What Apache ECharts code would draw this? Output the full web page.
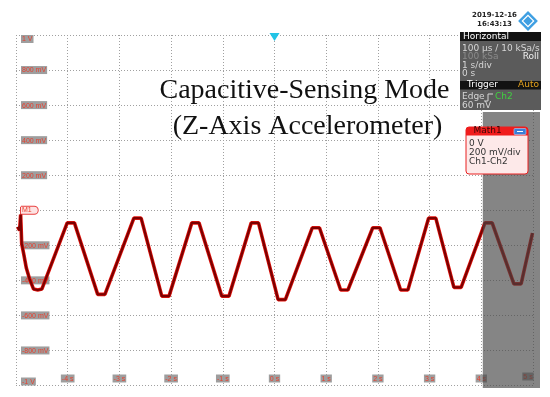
<!DOCTYPE html>
<html><head><meta charset="utf-8">
<script src="https://cdn.jsdelivr.net/npm/echarts@6/dist/echarts.min.js"></script>
<style>html,body{margin:0;padding:0;background:#fff}#c{width:550px;height:397px}</style>
</head><body><div id="c"></div>
<script>
// Math1 trace (Ch1-Ch2), time in s, voltage in mV
const timeS = [-4.97,-4.93,-4.91,-4.89,-4.85,-4.80,-4.74,-4.66,-4.58,-4.50,
  -4.01,-3.87,-3.42,-3.28,-2.72,-2.58,-2.18,-2.04,-1.60,-1.46,-1.02,-0.88,
  -0.45,-0.31,0.07,0.21,0.73,0.87,1.28,1.42,1.90,2.04,2.44,2.58,2.98,3.12,
  3.47,3.61,4.07,4.21,4.63,4.77,4.99];
const voltsMV = [-95,-115,-25,-190,-250,-330,-390,-450,-455,-450,
  -72,-72,-480,-480,-45,-45,-490,-490,-72,-72,-490,-490,
  -72,-72,-510,-510,-100,-100,-455,-455,-100,-100,-455,-455,-45,-45,
  -440,-440,-72,-72,-420,-420,-130];
const xTickLabels = ['', '-4 s', '-3 s', '-2 s', '-1 s', '0 s', '1 s', '2 s', '3 s', '4 s', '5 s'];
const yTickLabels = ['-1 V', '-800 mV', '-600 mV', '-400 mV', '-200 mV', 'M1', '200 mV', '400 mV', '600 mV', '800 mV', '1 V'];
const titleLines = ['Capacitive-Sensing Mode', '(Z-Axis Accelerometer)'];
const stampLines = ['2019-12-16', '16:43:13'];
const horizRows = ['100 µs / 10 kSa/s', '100 kSa', '1 s/div', '0 s'];
const trigRows = ['Edge', 'Ch2', '60 mV'];
const mathRows = ['0 V', '200 mV/div', 'Ch1-Ch2'];
const rollRegionStart = 4; // s

const chart = echarts.init(document.getElementById('c'));
const pts = timeS.map((t, i) => [t, voltsMV[i]]);
const lab = {fontFamily: 'Liberation Sans', fontSize: 7, color: '#e8402f', backgroundColor: '#9e9e9e', padding: [1, 1, 0, 1], lineHeight: 8};

chart.setOption({
  animation: false,
  backgroundColor: '#ffffff',
  grid: {left: 16, right: 17, top: 35, bottom: 11.5},
  xAxis: {
    type: 'value', min: -5, max: 5, interval: 1,
    axisLine: {show: false}, axisTick: {show: false},
    splitLine: {show: true, lineStyle: {color: '#a0a0a0', type: [1, 2], width: 1}},
    axisLabel: {
      inside: true, margin: 3, showMinLabel: true, showMaxLabel: true,
      formatter: v => {
        const i = Math.round(v + 5);
        const s = xTickLabels[i];
        if (!s) return '';
        if (i === 10) return '{b|' + s + '}{e| }';
        return '{b|' + s + '}';
      },
      rich: {b: lab, e: {width: 10}}
    }
  },
  yAxis: {
    type: 'value', min: -1000, max: 1000, interval: 200,
    axisLine: {show: false}, axisTick: {show: false},
    splitLine: {show: true, lineStyle: {color: '#a0a0a0', type: [1, 2], width: 1}},
    axisLabel: {
      inside: true, margin: 5, showMinLabel: true, showMaxLabel: true,
      formatter: v => {
        const i = Math.round((v + 1000) / 200);
        const s = yTickLabels[i];
        if (i === 10) return '{e| }\n{b|' + s + '}';
        if (i === 0) return '{b|' + s + '}\n{e| }';
        if (i === 5) return '{m|' + s + '}';
        return '{b|' + s + '}';
      },
      rich: {
        b: lab, e: {lineHeight: 8, fontSize: 7},
        m: {fontFamily: 'Liberation Sans', fontSize: 7, color: '#e8402f', backgroundColor: '#fde3e3',
            borderColor: '#e84040', borderWidth: 1, borderRadius: [0, 4, 4, 0], padding: [0, 6, 0, 1], lineHeight: 8}
      }
    }
  },
  series: [
    {type: 'line', data: pts, showSymbol: false, symbol: 'none', z: 3,
     lineStyle: {color: '#e8160f', width: 3.6}},
    {type: 'line', data: pts, showSymbol: false, symbol: 'none', z: 4,
     lineStyle: {color: '#7c0000', width: 2.2},
     markPoint: {symbol: 'triangle', symbolRotate: 180, symbolSize: [10, 8], symbolOffset: [0, 2],
       itemStyle: {color: '#22c4e6'}, label: {show: false}, silent: true,
       data: [{coord: [0, 1000]}]}}
  ]
});

const gx = chart.convertToPixel({xAxisIndex: 0}, rollRegionStart) + 1.5;
const F = '9px "DejaVu Sans"';
const txt = (x, y, s, fill, font, align, z) => ({type: 'text', z: z || 70, x: x, y: y,
  style: {text: s, fill: fill, font: font || F, textAlign: align || 'left', textVerticalAlign: 'middle', align: align || 'left', verticalAlign: 'middle'}});

const g = [];
g.push({type: 'rect', z: 50, shape: {x: gx, y: 112, width: 540 - gx, height: 276}, style: {fill: 'rgba(70,70,70,0.66)'}});
g.push(txt(304.5, 90.5, titleLines[0], '#111', '28px "Liberation Serif"', 'center', 55));
g.push(txt(307.5, 126.5, titleLines[1], '#111', '28px "Liberation Serif"', 'center', 55));
g.push(txt(494.5, 15, stampLines[0], '#222', 'bold 7px "DejaVu Sans"', 'center'));
g.push(txt(494.5, 24, stampLines[1], '#222', 'bold 7px "DejaVu Sans"', 'center'));
g.push({type: 'rect', z: 70, x: 528, y: 21, rotation: Math.PI / 4, shape: {x: -7, y: -7, width: 14, height: 14}, style: {fill: '#3f9fe2'}});
g.push({type: 'rect', z: 71, x: 528, y: 21, rotation: Math.PI / 4, shape: {x: -4, y: -4, width: 8, height: 8}, style: {fill: 'none', stroke: '#ffffff', lineWidth: 1.2}});
g.push({type: 'rect', z: 60, shape: {x: 460, y: 32, width: 81, height: 78}, style: {fill: '#5b5b5b'}});
g.push({type: 'rect', z: 61, shape: {x: 460, y: 32, width: 81, height: 9}, style: {fill: '#121212'}});
g.push({type: 'rect', z: 61, shape: {x: 460, y: 81, width: 81, height: 8.5}, style: {fill: '#121212'}});
g.push(txt(463, 37, 'Horizontal', '#ffffff'));
g.push(txt(462, 49, horizRows[0], '#d6d6d6'));
g.push(txt(462, 57, horizRows[1], '#8a8a8a'));
g.push(txt(539, 57, 'Roll', '#f0f0f0', F, 'right'));
g.push(txt(462, 66, horizRows[2], '#d6d6d6'));
g.push(txt(462, 74, horizRows[3], '#d6d6d6'));
g.push(txt(467, 85, 'Trigger', '#ffffff'));
g.push(txt(539, 85, 'Auto', '#e5a21c', F, 'right'));
g.push(txt(462, 97, trigRows[0], '#d6d6d6'));
g.push({type: 'polyline', z: 70, shape: {points: [[484, 101], [488, 101], [488, 94], [493, 94]]}, style: {stroke: '#d6d6d6', lineWidth: 1, fill: 'none'}});
g.push(txt(495, 97, trigRows[1], '#3fd23f'));
g.push(txt(462, 106, trigRows[2], '#d6d6d6'));
g.push({type: 'rect', z: 62, shape: {x: 466, y: 127, width: 62, height: 47, r: 3}, style: {fill: '#fde9e9', stroke: '#e82020', lineWidth: 1}});
g.push({type: 'rect', z: 63, shape: {x: 466, y: 127, width: 62, height: 8.5, r: [3, 3, 0, 0]}, style: {fill: '#f01c1c'}});
g.push({type: 'rect', z: 64, shape: {x: 514, y: 128.5, width: 12, height: 6, r: 1}, style: {fill: '#3a7fd8', stroke: '#bcd4f4', lineWidth: 0.6}});
g.push({type: 'line', z: 65, shape: {x1: 517, y1: 131.5, x2: 523, y2: 131.5}, style: {stroke: '#ffffff', lineWidth: 1}});
g.push(txt(487.5, 131, 'Math1', '#3a0606', F, 'center', 65));
g.push(txt(469, 144, mathRows[0], '#333333', F, 'left', 65));
g.push(txt(469, 153, mathRows[1], '#333333', F, 'left', 65));
g.push(txt(469, 162, mathRows[2], '#333333', F, 'left', 65));

chart.setOption({graphic: {elements: g}});
</script></body></html>
